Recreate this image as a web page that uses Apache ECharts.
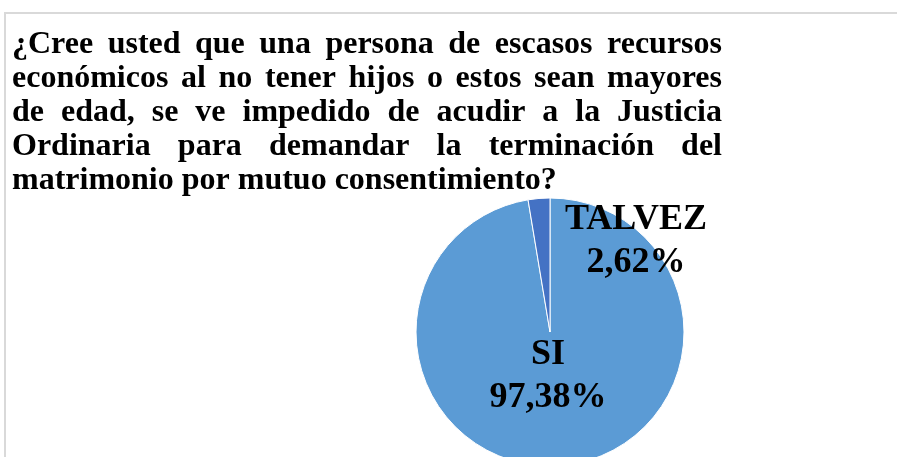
<!DOCTYPE html>
<html>
<head>
<meta charset="utf-8">
<script src="https://cdn.jsdelivr.net/npm/echarts@6/dist/echarts.min.js"></script>
<style>
    html, body { margin: 0; padding: 0; background: #fff; }
    #pie { width: 897px; height: 457px; }
</style>
</head>
<body>
<div id="pie"></div>
<script>
    // datos
    var categories = ['SI', 'TALVEZ'];
    var values = [97.38, 2.62];
    var colors = ['#5B9BD5', '#4472C4'];
    // titulo, una entrada por linea (justificado salvo la ultima)
    var titleLines = [
        '¿Cree usted que una persona de escasos recursos',
        'económicos al no tener hijos o estos sean mayores',
        'de edad, se ve impedido de acudir a la Justicia',
        'Ordinaria para demandar la terminación del',
        'matrimonio por mutuo consentimiento?'
    ];

    var pieChart = echarts.init(document.getElementById('pie'));

    var titleFont = 'bold 32px "Liberation Serif"';
    var left = 12, right = 722, firstMid = 45, lineGap = 34;
    var ctx = document.createElement('canvas').getContext('2d');
    ctx.font = titleFont;

    //armar el titulo justificado palabra por palabra
    var graphics = [{
        type: 'rect',
        shape: { x: 5, y: 13, width: 900, height: 460 },
        style: { fill: 'none', stroke: '#D9D9D9', lineWidth: 2 },
        silent: true
    }];
    for (var i = 0; i < titleLines.length; i++) {
        var words = titleLines[i].split(' ');
        var total = 0;
        for (var j = 0; j < words.length; j++) {
            total += ctx.measureText(words[j]).width;
        }
        var gap = ctx.measureText(' ').width;
        if (i < titleLines.length - 1 && words.length > 1) {
            gap = (right - left - total) / (words.length - 1);
        }
        var x = left;
        for (var j = 0; j < words.length; j++) {
            graphics.push({
                type: 'text',
                x: x,
                y: firstMid + i * lineGap,
                silent: true,
                style: {
                    text: words[j],
                    font: titleFont,
                    fill: '#000',
                    textAlign: 'left',
                    textVerticalAlign: 'middle'
                }
            });
            x += ctx.measureText(words[j]).width + gap;
        }
    }

    var pieData = [];
    for (var k = 0; k < categories.length; k++) {
        pieData.push({ name: categories[k], value: values[k], itemStyle: { color: colors[k] } });
    }

    // centro de cada etiqueta
    var labelPos = [[548, 376], [636, 241]];

    option = {
        animation: false,
        graphic: graphics,
        series: [{
            type: 'pie',
            center: [550, 332],
            radius: [0, 134],
            startAngle: 90,
            clockwise: true,
            avoidLabelOverlap: false,
            data: pieData,
            itemStyle: { borderColor: '#fff', borderWidth: 1 },
            label: {
                show: true,
                position: 'inside',
                fontFamily: 'Liberation Serif',
                fontWeight: 'bold',
                fontSize: 36,
                lineHeight: 43,
                color: '#000',
                formatter: function (p) {
                    return p.name + '\n' + p.value.toFixed(2).replace('.', ',') + '%';
                }
            },
            labelLine: { show: false },
            labelLayout: function (p) {
                return {
                    x: labelPos[p.dataIndex][0],
                    y: labelPos[p.dataIndex][1],
                    align: 'center',
                    verticalAlign: 'middle'
                };
            },
            emphasis: { disabled: true }
        }]
    };
    pieChart.setOption(option);
</script>
</body>
</html>
